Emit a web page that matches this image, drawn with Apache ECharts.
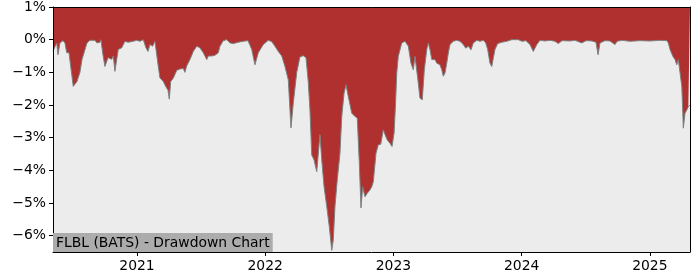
<!DOCTYPE html>
<html>
<head>
<meta charset="utf-8">
<script src="https://cdn.jsdelivr.net/npm/echarts@6/dist/echarts.min.js"></script>
<style>html,body{margin:0;padding:0;background:#fff}#c{width:700px;height:280px}</style>
</head>
<body>
<div id="c"></div>
<script>
// time as decimal years
const years = [2020.345,2020.353,2020.374,2020.384,2020.399,2020.423,2020.438,2020.452,2020.470,2020.483,
2020.503,2020.516,2020.532,2020.555,2020.571,2020.594,2020.610,2020.633,2020.672,2020.688,
2020.711,2020.719,2020.732,2020.750,2020.764,2020.774,2020.789,2020.803,2020.815,2020.828,
2020.842,2020.854,2020.867,2020.881,2020.906,2020.930,2020.969,2020.998,2021.023,2021.049,
2021.070,2021.086,2021.101,2021.122,2021.140,2021.154,2021.166,2021.179,2021.205,2021.224,
2021.242,2021.252,2021.263,2021.283,2021.310,2021.335,2021.361,2021.374,2021.388,2021.413,
2021.439,2021.466,2021.491,2021.517,2021.544,2021.556,2021.583,2021.608,2021.634,2021.647,
2021.673,2021.700,2021.725,2021.751,2021.790,2021.827,2021.866,2021.895,2021.920,2021.946,
2021.985,2022.024,2022.051,2022.076,2022.102,2022.129,2022.154,2022.180,2022.201,2022.219,
2022.246,2022.271,2022.297,2022.318,2022.336,2022.349,2022.363,2022.381,2022.402,2022.414,
2022.427,2022.441,2022.459,2022.480,2022.500,2022.519,2022.531,2022.544,2022.562,2022.583,
2022.597,2022.615,2022.630,2022.648,2022.675,2022.700,2022.718,2022.734,2022.747,2022.760,
2022.778,2022.796,2022.817,2022.831,2022.843,2022.864,2022.882,2022.901,2022.921,2022.934,
2022.952,2022.973,2022.989,2023.005,2023.016,2023.026,2023.038,2023.065,2023.090,2023.116,
2023.137,2023.155,2023.168,2023.182,2023.194,2023.207,2023.225,2023.241,2023.260,2023.272,
2023.285,2023.299,2023.311,2023.324,2023.338,2023.350,2023.363,2023.377,2023.389,2023.402,
2023.416,2023.428,2023.441,2023.467,2023.494,2023.519,2023.545,2023.564,2023.584,2023.605,
2023.623,2023.650,2023.675,2023.701,2023.720,2023.735,2023.753,2023.767,2023.779,2023.792,
2023.813,2023.845,2023.884,2023.923,2023.974,2024.003,2024.034,2024.065,2024.091,2024.118,
2024.143,2024.182,2024.221,2024.260,2024.286,2024.315,2024.377,2024.416,2024.469,2024.502,
2024.549,2024.580,2024.596,2024.611,2024.650,2024.689,2024.728,2024.744,2024.783,2024.845,
2024.923,2025.001,2025.079,2025.132,2025.144,2025.157,2025.179,2025.196,2025.210,2025.222,
2025.235,2025.249,2025.257,2025.261,2025.274,2025.288,2025.300,2025.313];

// drawdown in percent
const drawdown = [-0.35,-0.31,-0.1,-0.46,-0.1,-0.03,-0.1,-0.4,-0.4,-0.82,
-1.43,-1.38,-1.28,-1.0,-0.61,-0.31,-0.1,-0.02,-0.02,-0.1,
-0.08,0,-0.4,-0.82,-0.86,-0.55,-0.5,-0.6,-0.5,-0.97,
-0.6,-0.3,-0.35,-0.25,-0.05,-0.08,-0.05,-0.02,-0.05,0,
-0.25,-0.36,-0.15,-0.2,-0.05,-0.1,-0.82,-1.17,-1.28,-1.43,
-1.55,-1.82,-1.28,-1.18,-0.94,-0.9,-0.88,-1.0,-0.8,-0.61,
-0.36,-0.2,-0.25,-0.4,-0.61,-0.5,-0.5,-0.48,-0.4,-0.2,
-0.03,0,-0.1,-0.12,-0.08,-0.05,-0.03,-0.3,-0.77,-0.4,
-0.15,-0.02,-0.06,-0.2,-0.36,-0.5,-0.82,-1.23,-2.7,-1.94,
-1.0,-0.53,-0.49,-0.55,-1.3,-2.15,-3.53,-3.68,-4.04,-4.04,
-2.91,-3.68,-4.5,-5.11,-5.73,-6.45,-6.13,-5.11,-4.29,-3.48,
-2.35,-1.64,-1.38,-1.74,-2.25,-2.35,-2.4,-3.78,-5.15,-4.5,
-4.81,-4.7,-4.6,-4.5,-4.35,-3.48,-3.22,-3.2,-2.76,-2.9,
-3.07,-3.17,-3.27,-2.86,-2.0,-1.02,-0.51,-0.1,-0.05,-0.2,
-0.72,-0.92,-0.51,-0.55,-1.33,-1.79,-1.84,-0.92,-0.3,-0.1,
-0.3,-0.61,-0.66,-0.61,-0.72,-0.66,-0.77,-0.92,-1.12,-1.02,
-0.72,-0.41,-0.15,-0.05,-0.02,-0.05,-0.15,-0.26,-0.2,-0.31,
-0.1,-0.02,-0.05,-0.02,-0.1,-0.3,-0.72,-0.82,-0.56,-0.3,
-0.12,-0.08,-0.05,0,0,-0.05,-0.03,-0.15,-0.36,-0.15,
-0.02,-0.04,-0.02,-0.05,-0.12,-0.03,-0.04,-0.02,-0.1,-0.03,
-0.04,-0.08,-0.46,-0.1,-0.03,-0.04,-0.15,-0.05,-0.02,-0.05,
-0.03,-0.04,-0.02,-0.03,-0.1,-0.3,-0.51,-0.61,-0.77,-0.61,
-0.61,-1.43,-2.25,-2.71,-2.25,-2.15,-2.05,-2.0];

const yearTicks = [2021, 2022, 2023, 2024, 2025];
const pctTicks = [-6, -5, -4, -3, -2, -1, 0, 1];
const titleText = 'FLBL (BATS) - Drawdown Chart';

const font = 'DejaVu Sans';
const chart = echarts.init(document.getElementById('c'), null, {renderer: 'canvas'});
const fmtPct = v => (v < 0 ? '\u2212' : '') + Math.abs(v) + '%';
const data = years.map((y, i) => [y, drawdown[i]]);

chart.setOption({
  animation: false,
  title: {
    text: titleText,
    left: 53, bottom: 28,
    backgroundColor: '#acacac',
    padding: [2, 3, 1, 3],
    itemGap: 0,
    textStyle: {fontFamily: font, fontSize: 13.9, fontWeight: 'normal', color: '#000', lineHeight: 16},
    z: 10
  },
  grid: {left: 53, right: 10, top: 7, bottom: 28, show: true, backgroundColor: '#ececec', borderWidth: 0},
  xAxis: [{
    type: 'value', min: 2020.345, max: 2025.313, position: 'bottom', z: 5,
    axisLine: {show: true, onZero: false, lineStyle: {color: '#000', width: 1}},
    axisTick: {show: true, length: 4, customValues: yearTicks, lineStyle: {color: '#000'}},
    axisLabel: {customValues: yearTicks, formatter: v => String(Math.round(v)), fontFamily: font, fontSize: 13.9, color: '#000', margin: 7},
    splitLine: {show: false}
  }, {
    type: 'value', min: 2020.345, max: 2025.313, position: 'top', z: 5,
    axisLine: {show: true, onZero: false, lineStyle: {color: '#000', width: 1}},
    axisTick: {show: false}, axisLabel: {show: false}, splitLine: {show: false}
  }],
  yAxis: [{
    type: 'value', min: -6.5, max: 1, position: 'left', z: 5,
    axisLine: {show: true, onZero: false, lineStyle: {color: '#000', width: 1}},
    axisTick: {show: true, length: 4, customValues: pctTicks, lineStyle: {color: '#000'}},
    axisLabel: {customValues: pctTicks, formatter: fmtPct, fontFamily: font, fontSize: 13.9, color: '#000', margin: 7},
    splitLine: {show: false}
  }, {
    type: 'value', min: -6.5, max: 1, position: 'right', z: 5,
    axisLine: {show: true, onZero: false, lineStyle: {color: '#000', width: 1}},
    axisTick: {show: false}, axisLabel: {show: false}, splitLine: {show: false}
  }],
  series: [{
    type: 'line',
    data: data,
    xAxisIndex: 0, yAxisIndex: 0,
    showSymbol: false,
    symbol: 'none',
    lineStyle: {color: '#7f7f7f', width: 1},
    areaStyle: {color: '#b03030', opacity: 1, origin: 'end'},
    z: 2
  }]
});
</script>
</body>
</html>
